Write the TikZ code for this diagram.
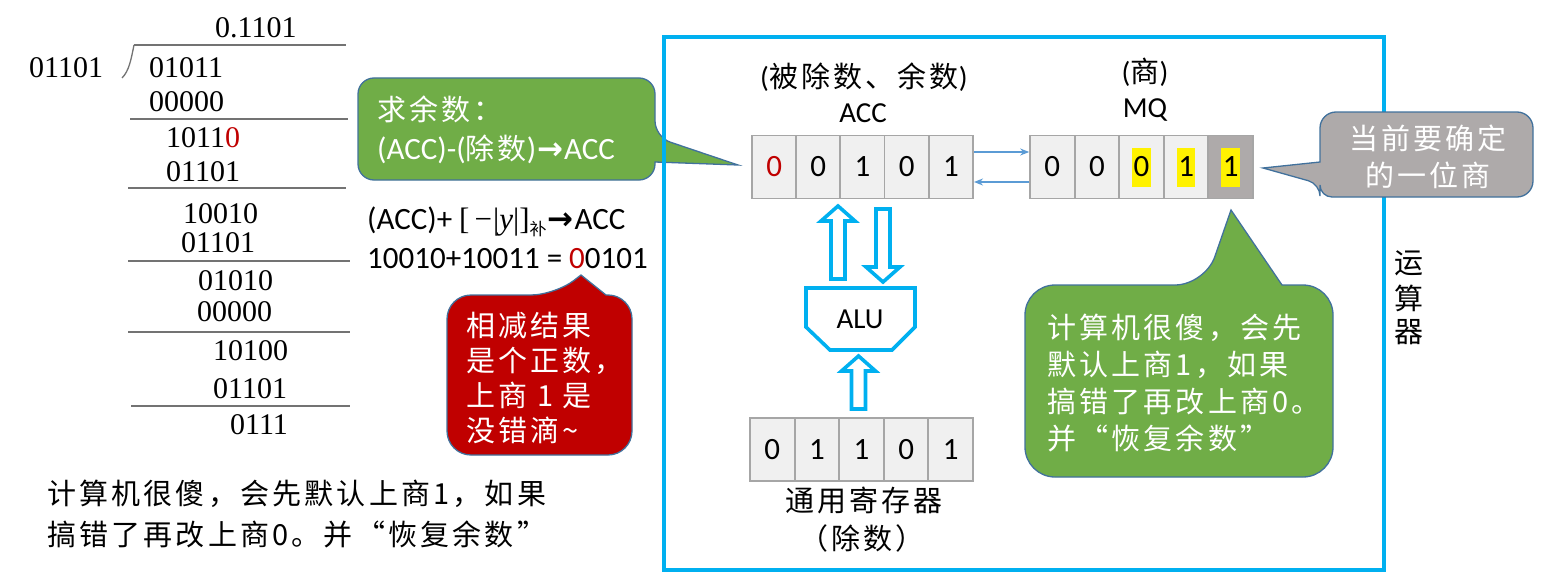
\documentclass[tikz,border=0pt]{standalone}
\usepackage{fontspec}
\setmainfont{Carlito}
\newfontfamily\cjk{Noto Sans CJK SC}[LetterSpace=11]
\newfontfamily\cjkplain{Noto Sans CJK SC}
\newfontfamily\tms{Liberation Serif}
\newfontfamily\symf{DejaVu Sans}
\usetikzlibrary{calc,arrows.meta}

\definecolor{aluframe}{HTML}{00B0F0}
\definecolor{calgreen}{HTML}{70AD47}
\definecolor{calred}{HTML}{C00000}
\definecolor{calgray}{HTML}{AEAAAA}
\definecolor{calline}{HTML}{41719C}
\definecolor{cellfill}{HTML}{F0F0F0}
\definecolor{cellline}{HTML}{A6A6A6}
\definecolor{linkblue}{HTML}{5B9BD5}
\definecolor{digitred}{HTML}{C00000}

\newcommand\setfs[2]{\fontsize{#1}{#2}\selectfont}
\newcommand\thickarrow{{\symf\bfseries\kern1pt→\kern1pt}}

% hollow block arrow between two points on a vertical line: #1 tail, #2 tip
\newcommand\vblock[2]{%
  \path ($(#2)!15pt!(#1)$) coordinate (hb);
  \draw[hollow] ($(#1)+(-7,0)$) -- ($(hb)+(-7,0)$) -- ($(hb)+(-17,0)$) -- (#2)
    -- ($(hb)+(17,0)$) -- ($(hb)+(7,0)$) -- ($(#1)+(7,0)$) -- cycle;}

\begin{document}
\begin{tikzpicture}[x=1pt,y=-1pt,
  cell/.style={draw=cellline, line width=1.8pt, fill=cellfill,
    minimum width=44.4pt, minimum height=63pt, inner sep=0pt, font=\setfs{31}{36}},
  qcell/.style={cell, fill=calgray},
  hl/.style={fill=yellow, inner xsep=1.5pt, inner ysep=0pt, minimum height=39pt, font=\setfs{31}{36}},
  link/.style={draw=linkblue, line width=1.6pt, -{Stealth[length=9pt,width=7pt]}},
  hollow/.style={draw=aluframe, line width=3.6pt, fill=white, line join=miter},
  bubble/.style={draw=calline, line width=1.3pt},
  note/.style={text=white, align=left, inner sep=0pt},
  divnum/.style={anchor=west, inner sep=0pt, font=\tms\setfs{30}{36}},
  divline/.style={draw=black!55, line width=1.3pt},
  lbl/.style={inner sep=0pt, font=\setfs{29}{34}},
  cjklbl/.style={inner sep=0pt, font=\cjk\setfs{29}{34}}]
\useasboundingbox (0,0) rectangle (1545,578);

% ---------- long division worked by hand ----------
\node[divnum] (qt) at (215,28) {0.1101};
\draw[divline] (134,45) -- (346,45);
\draw[divline] (122,78) .. controls (129,71) and (131,60) .. (134,45);
\node[divnum] (dv) at (29,68) {01101};
\node[divnum] (r0) at (149,68) {01011};
\node[divnum] (s0) at (149,102) {00000};
\draw[divline] (130,119) -- (348,119);
\node[divnum] (r1) at (166,138) {1011{\color{digitred}0}};
\node[divnum] (s1) at (166,172) {01101};
\draw[divline] (128,188) -- (346,188);
\node[divnum] (r2) at (183,214) {10010};
\node[divnum] (s2) at (181,243) {01101};
\draw[divline] (128,261) -- (350,261);
\node[divnum] (r3) at (198,281) {01010};
\node[divnum] (s3) at (197,312) {00000};
\draw[divline] (128,332) -- (350,332);
\node[divnum] (r4) at (213,351) {10100};
\node[divnum] (s4) at (213,389) {01101};
\draw[divline] (131,406) -- (350,406);
\node[divnum] (r5) at (230,425) {0111};

\node[anchor=west, align=left, inner sep=0pt, font=\cjk\setfs{29}{41}] (moral) at (47,514)
  {计算机很傻，会先默认上商1，如果\\搞错了再改上商0。并“恢复余数”};

% ---------- the subtraction step ----------
\node[anchor=west, inner sep=0pt, font=\setfs{31}{36}] (f1) at (367,222)
  {(ACC)+ {\tms[\,−\kern1pt|\textit{y}|]}\raisebox{-6pt}{\cjkplain\setfs{17}{17}补}\thickarrow ACC};
\node[anchor=west, inner sep=0pt, font=\setfs{31}{36}] (f2) at (367,259)
  {10010+10011 = {\color{digitred}0}0101};

% callout: remainder rule
\draw[bubble, fill=calgreen] (358,129) [rounded corners=16] -- (358,78) -- (655,78) -- (655,137)
  [sharp corners] -- (738,165) -- (655,162) [rounded corners=16] -- (655,180) -- (358,180) -- cycle;
\node[note, anchor=west, font=\setfs{31}{39}] (q1) at (377,130)
  {{\cjk\setfs{29}{39}求余数：}\\(ACC)-({\cjk\setfs{29}{39}除数})\thickarrow ACC};

% callout: positive difference
\draw[bubble, fill=calred] (447,375) [rounded corners=24] -- (447,295) -- (555,295)
  [sharp corners] -- (581,275) -- (606,295) [rounded corners=24] -- (632,295) -- (632,455) -- (447,455) -- cycle;
\node[note, anchor=west, font=\cjk\setfs{29}{35}] (q2) at (466,378)
  {相减结果\\是个正数，\\上商 1 是\\没错滴\textasciitilde};

% ---------- arithmetic unit frame ----------
\draw[draw=aluframe, line width=4pt] (664,37) rectangle (1384,570);
\node[cjklbl] (unit1) at (1409,263) {运};
\node[cjklbl] (unit2) at (1409,298) {算};
\node[cjklbl] (unit3) at (1409,332) {器};

% ACC
\node[cjklbl] (accnote) at (864,77) {{\rmfamily(}被除数、余数{\rmfamily)}};
\node[lbl] (acclbl) at (863,113) {ACC};
\node[cell] (a1) at (774.1,167) {\color{digitred}0};
\node[cell] (a2) at (818.3,167) {0};
\node[cell] (a3) at (862.5,167) {1};
\node[cell] (a4) at (906.7,167) {0};
\node[cell] (a5) at (950.9,167) {1};

% MQ
\node[cjklbl] (mqnote) at (1145,72) {{\rmfamily(}商{\rmfamily)}};
\node[lbl] (mqlbl) at (1145,110) {MQ};
\node[cell] (m1) at (1052.3,167) {0};
\node[cell] (m2) at (1096.9,167) {0};
\node[cell] (m3) at (1141.5,167) {};
\node[cell] (m4) at (1186.1,167) {};
\node[qcell] (m5) at (1230.7,167) {};
\node[hl] (h3) at (m3) {0};
\node[hl] (h4) at (m4) {1};
\node[hl] (h5) at (m5) {1};

\draw[link] ([yshift=15pt]a5.east) -- ([yshift=15pt]m1.west);
\draw[link] ([yshift=-15pt]m1.west) -- ([yshift=-15pt]a5.east);

% callout: quotient bit
\draw[bubble, fill=calgray] (1426,112) [rounded corners=16] -- (1533,112) -- (1533,197)
  [rounded corners=12] -- (1320,197) -- (1320,184)
  [sharp corners] -- (1263,168) -- (1320,162) [rounded corners=16] -- (1320,112) -- cycle;
\node[note, align=center, font=\cjk\setfs{29}{37}] (q3) at (1428,157) {当前要确定\\的一位商};

% ALU
\draw[hollow] (806,288) -- (915,288) -- (915,327) -- (892,350) -- (830,350) -- (806,327) -- cycle;
\node[lbl] (alu) at (860,319) {ALU};

\coordinate (upT) at (838,279);   \coordinate (upH) at (838,206);
\coordinate (dnT) at (883,209);   \coordinate (dnH) at (883,282);
\coordinate (inT) at (858.5,409); \coordinate (inH) at (858.5,356);
\vblock{upT}{upH}
\vblock{dnT}{dnH}
\vblock{inT}{inH}

% general register
\node[cell] (g1) at (772.3,449.5) {0};
\node[cell] (g2) at (816.9,449.5) {1};
\node[cell] (g3) at (861.5,449.5) {1};
\node[cell] (g4) at (906.1,449.5) {0};
\node[cell] (g5) at (950.7,449.5) {1};
\node[cjklbl] (reglbl) at (864,500) {通用寄存器};
\node[cjklbl] (regnote) at (862,538) {（除数）};

% callout: default quotient 1
\draw[bubble, fill=calgreen] (1025,380) [rounded corners=30] -- (1025,285) -- (1205,285)
  [sharp corners] -- (1231,210) -- (1282,285) [rounded corners=30] -- (1333,285) -- (1333,477) -- (1025,477) -- cycle;
\node[note, anchor=west, font=\cjk\setfs{29}{37}] (q4) at (1047,383)
  {计算机很傻，会先\\默认上商1，如果\\搞错了再改上商0。\\并“恢复余数”};
\end{tikzpicture}
\end{document}
